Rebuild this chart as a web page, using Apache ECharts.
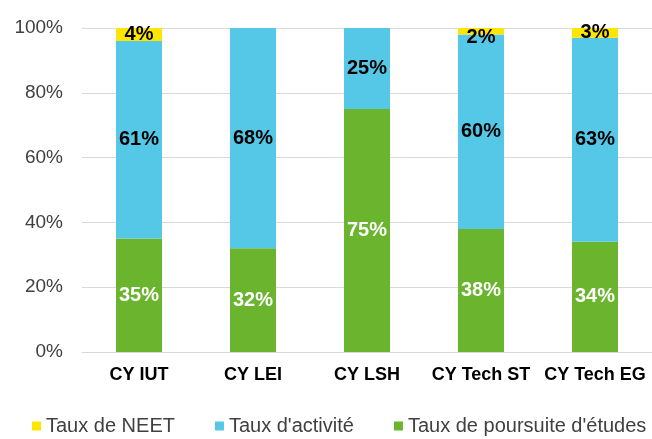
<!DOCTYPE html>
<html>
<head>
<meta charset="utf-8">
<script src="https://cdn.jsdelivr.net/npm/echarts@6/dist/echarts.min.js"></script>
<style>
  html, body { margin: 0; padding: 0; background: #fff; }
  #chart { width: 652px; height: 439px; }
</style>
</head>
<body>
<div id="chart"></div>
<script>
var chartDom = document.getElementById('chart');
var myChart = echarts.init(chartDom);

const categories = ['CY IUT', 'CY LEI', 'CY LSH', 'CY Tech ST', 'CY Tech EG'];
const poursuite = [35, 32, 75, 38, 34];
const activite = [61, 68, 25, 60, 63];
const neet = [4, 0, 0, 2, 3];
const yTicks = [0, 20, 40, 60, 80, 100];

function pctLabel(p) {
    return p.value ? p.value + '%' : '';
}

const labelBase = {
    show: true,
    position: 'inside',
    fontFamily: 'Liberation Sans, Arial',
    fontWeight: 'bold',
    fontSize: 20,
    formatter: pctLabel
};

// le label 2% est un peu décalé vers le bas dans l'original
const neetData = neet.map(function (v, i) {
    return i === 3 ? { value: v, label: { offset: [0, 6] } } : v;
});

let option = {
    animation: false,
    grid: { left: 82, right: 0, top: 28, bottom: 87 },
    legend: {
        data: ['Taux de NEET', "Taux d'activité", "Taux de poursuite d'études"],
        left: 32,
        top: 416,
        padding: 0,
        icon: 'rect',
        itemWidth: 9,
        itemHeight: 9,
        itemGap: 40,
        textStyle: { color: '#404040', fontSize: 20, fontFamily: 'Liberation Sans, Arial' }
    },
    xAxis: {
        type: 'category',
        data: categories,
        axisLine: { lineStyle: { color: '#d9d9d9' } },
        axisTick: { show: false },
        axisLabel: {
            interval: 0,
            hideOverlap: false,
            color: '#000',
            fontWeight: 'bold',
            fontSize: 18,
            fontFamily: 'Liberation Sans, Arial',
            margin: 14
        }
    },
    yAxis: {
        type: 'value',
        min: yTicks[0],
        max: yTicks[yTicks.length - 1],
        interval: 20,
        axisLabel: {
            color: '#404040',
            fontSize: 19,
            fontFamily: 'Liberation Sans, Arial',
            margin: 19,
            formatter: '{value}%'
        },
        splitLine: { lineStyle: { color: '#d9d9d9' } }
    },
    series: [
        {
            name: "Taux de poursuite d'études",
            type: 'bar',
            stack: 'total',
            barWidth: 46,
            data: poursuite,
            itemStyle: { color: '#6AB42E' },
            label: Object.assign({}, labelBase, { color: '#fff' })
        },
        {
            name: "Taux d'activité",
            type: 'bar',
            stack: 'total',
            data: activite,
            itemStyle: { color: '#55C8E8' },
            label: Object.assign({}, labelBase, { color: '#000' })
        },
        {
            name: 'Taux de NEET',
            type: 'bar',
            stack: 'total',
            data: neetData,
            itemStyle: { color: '#FFE600' },
            label: Object.assign({}, labelBase, { color: '#000' })
        }
    ]
};

option && myChart.setOption(option);
</script>
</body>
</html>
